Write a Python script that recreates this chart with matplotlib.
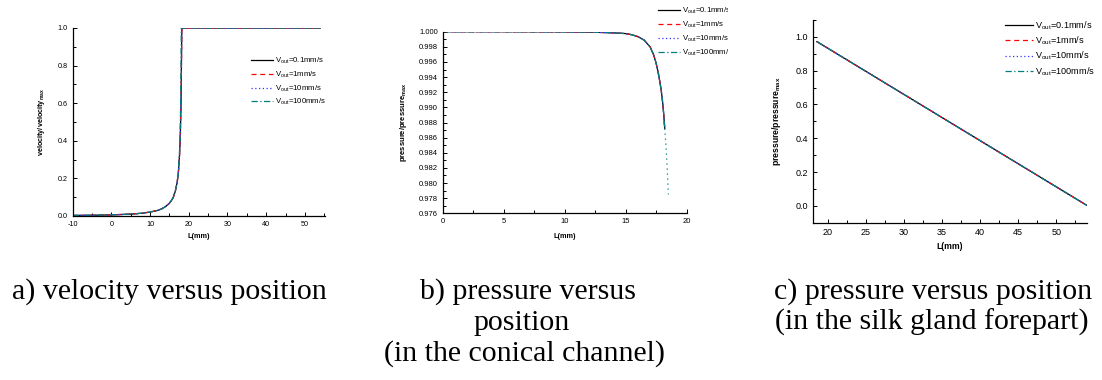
import matplotlib
matplotlib.use('Agg')
import matplotlib.pyplot as plt
from matplotlib.ticker import MultipleLocator
from matplotlib.transforms import Bbox, TransformedBbox

plt.rcParams['font.family'] = ['Liberation Sans', 'DejaVu Sans']
plt.rcParams['mathtext.fontset'] = 'custom'
plt.rcParams['mathtext.rm'] = 'Liberation Sans'
plt.rcParams['mathtext.bf'] = 'Liberation Sans:bold'
plt.rcParams['axes.unicode_minus'] = False

# series names and styles
labels = ['0.1mm/s', '1mm/s', '10mm/s', '100mm/s']
colors = ['#000000', '#ff0000', '#3333ff', '#008080']
styles = ['-', (0, (4, 3)), (0, (1, 2)), (0, (5, 2, 1, 2))]

# a) velocity versus position
vel_L = [-10, -5, 0, 5, 8, 10, 12, 13, 14, 15, 15.5, 16, 16.5, 17, 17.3,
         17.6, 17.8, 18.0, 18.1, 18.2, 54]
vel_v = [0.003, 0.004, 0.006, 0.010, 0.015, 0.021, 0.030, 0.038, 0.050,
         0.068, 0.082, 0.100, 0.130, 0.180, 0.230, 0.320, 0.420, 0.600,
         0.800, 1.0, 1.0]
vel_L_fast = [-10, -5, 0, 5, 8, 10, 12, 13, 14, 15, 15.5, 16, 16.5, 17,
              17.3, 17.55, 17.75, 17.9, 18.0, 18.05, 54]

# b) pressure in the conical channel
pc_L = [0, 5, 10, 12, 13, 14, 15, 15.5, 16, 16.5, 17, 17.3, 17.5, 17.7,
        17.9, 18.0, 18.1, 18.2]
pc_p = [1.0, 1.0, 0.99998, 0.99995, 0.9999, 0.99985, 0.99975, 0.9996,
        0.99935, 0.9989, 0.9980, 0.9969, 0.9958, 0.9943, 0.9924, 0.9911,
        0.9894, 0.9872]
pc_L_ext = [18.2, 18.3, 18.4, 18.5]
pc_p_ext = [0.9872, 0.9850, 0.9820, 0.9785]

# c) pressure in the silk gland forepart
pf_L = [18.55, 54.0]
pf_p = [0.972, 0.003]

# captions under each panel, one entry per line with its centre x
captions = [
    [('a) velocity versus position', 169)],
    [('b) pressure versus', 528), ('position', 522),
     ('(in the conical channel)', 524)],
    [('c) pressure versus position', 933), ('(in the silk gland forepart)', 932)],
]

W, H = 1102, 380
fig = plt.figure(figsize=(W / 100, H / 100), dpi=100)


def px_axes(left, right, top, bottom):
    return fig.add_axes([left / W, 1 - bottom / H, (right - left) / W,
                         (bottom - top) / H])


def style_axes(ax, fs):
    for s in ['top', 'right']:
        ax.spines[s].set_visible(False)
    for s in ['left', 'bottom']:
        ax.spines[s].set_linewidth(0.9)
    ax.tick_params(which='both', direction='in', labelsize=fs, width=0.7)
    ax.tick_params(which='major', length=3)
    ax.tick_params(which='minor', length=2)


def leg_label(lab):
    return r'V$_{\mathrm{out}}$=' + lab


# panel a
ax1 = px_axes(72.7, 325, 28, 216)
for i in range(4):
    xs = vel_L_fast if i == 3 else vel_L
    ax1.plot(xs, vel_v, color=colors[i], ls=styles[i], lw=0.9,
             label=leg_label(labels[i]))
ax1.set_xlim(-10, 55.2)
ax1.set_ylim(0, 1.0)
ax1.xaxis.set_major_locator(MultipleLocator(10))
ax1.xaxis.set_minor_locator(MultipleLocator(5))
ax1.yaxis.set_major_locator(MultipleLocator(0.2))
ax1.yaxis.set_minor_locator(MultipleLocator(0.1))
style_axes(ax1, 5.2)
ax1.set_xlabel('L(mm)', fontsize=5.2, fontweight='bold', labelpad=4)
ax1.set_ylabel(r'velocity/velocity$_{\mathbf{max}}$', fontsize=5.2,
               fontweight='bold', labelpad=8)
ax1.legend(loc='upper left', bbox_to_anchor=(251 / W, 1 - 56 / H),
           bbox_transform=fig.transFigure, frameon=False, fontsize=5.6,
           handlelength=2.8, handletextpad=0.3, labelspacing=0.4,
           borderpad=0, borderaxespad=0)

# panel b
ax2 = px_axes(442.7, 686.7, 31.7, 213.3)
for i in range(4):
    ax2.plot(pc_L, pc_p, color=colors[i], ls=styles[i], lw=0.9,
             label=leg_label(labels[i]))
ax2.plot(pc_L_ext, pc_p_ext, color=colors[3], ls=(0, (1, 3)), lw=0.9)
ax2.set_xlim(0, 20)
ax2.set_ylim(0.976, 1.000)
ax2.xaxis.set_major_locator(MultipleLocator(5))
ax2.xaxis.set_minor_locator(MultipleLocator(2.5))
ax2.yaxis.set_major_locator(MultipleLocator(0.002))
ax2.yaxis.set_minor_locator(MultipleLocator(0.001))
ax2.yaxis.set_major_formatter(plt.FormatStrFormatter('%.3f'))
style_axes(ax2, 5.5)
ax2.set_xlabel('L(mm)', fontsize=5.2, fontweight='bold', labelpad=6)
ax2.set_ylabel(r'pressure/pressure$_{\mathbf{max}}$', fontsize=5.5,
               fontweight='bold', labelpad=7)
leg2 = ax2.legend(loc='upper left', bbox_to_anchor=(658 / W, 1 - 6 / H),
                  bbox_transform=fig.transFigure, frameon=False,
                  fontsize=5.6, handlelength=2.8, handletextpad=0.3,
                  labelspacing=0.42, borderpad=0, borderaxespad=0)
clip = TransformedBbox(Bbox.from_extents(0, 0, 728 / W, 1), fig.transFigure)
for t in leg2.get_texts():
    t.set_clip_box(clip)
    t.set_clip_on(True)

# panel c
ax3 = px_axes(812.7, 1086.7, 20, 222.7)
for i in range(4):
    ax3.plot(pf_L, pf_p, color=colors[i], ls=styles[i], lw=0.9,
             label=leg_label(labels[i]))
ax3.set_xlim(18, 54)
ax3.set_ylim(-0.1, 1.1)
ax3.xaxis.set_major_locator(MultipleLocator(5))
ax3.xaxis.set_minor_locator(MultipleLocator(2.5))
ax3.yaxis.set_minor_locator(MultipleLocator(0.1))
ax3.set_yticks([0.0, 0.2, 0.4, 0.6, 0.8, 1.0])
style_axes(ax3, 6.5)
ax3.set_xlabel('L(mm)', fontsize=6.2, fontweight='bold', labelpad=4)
ax3.set_ylabel(r'pressure/pressure$_{\mathbf{max}}$', fontsize=6.2,
               fontweight='bold', labelpad=9)
ax3.legend(loc='upper left', bbox_to_anchor=(1005 / W, 1 - 19 / H),
           bbox_transform=fig.transFigure, frameon=False, fontsize=6.6,
           handlelength=3.0, handletextpad=0.3, labelspacing=0.32,
           borderpad=0, borderaxespad=0)

# captions
for lines in captions:
    for k, (txt, x) in enumerate(lines):
        fig.text(x / W, 1 - (299 + 31 * k) / H, txt, ha='center',
                 va='baseline', fontsize=21.5, family='Liberation Serif')

fig.savefig('out.png', dpi=100)
